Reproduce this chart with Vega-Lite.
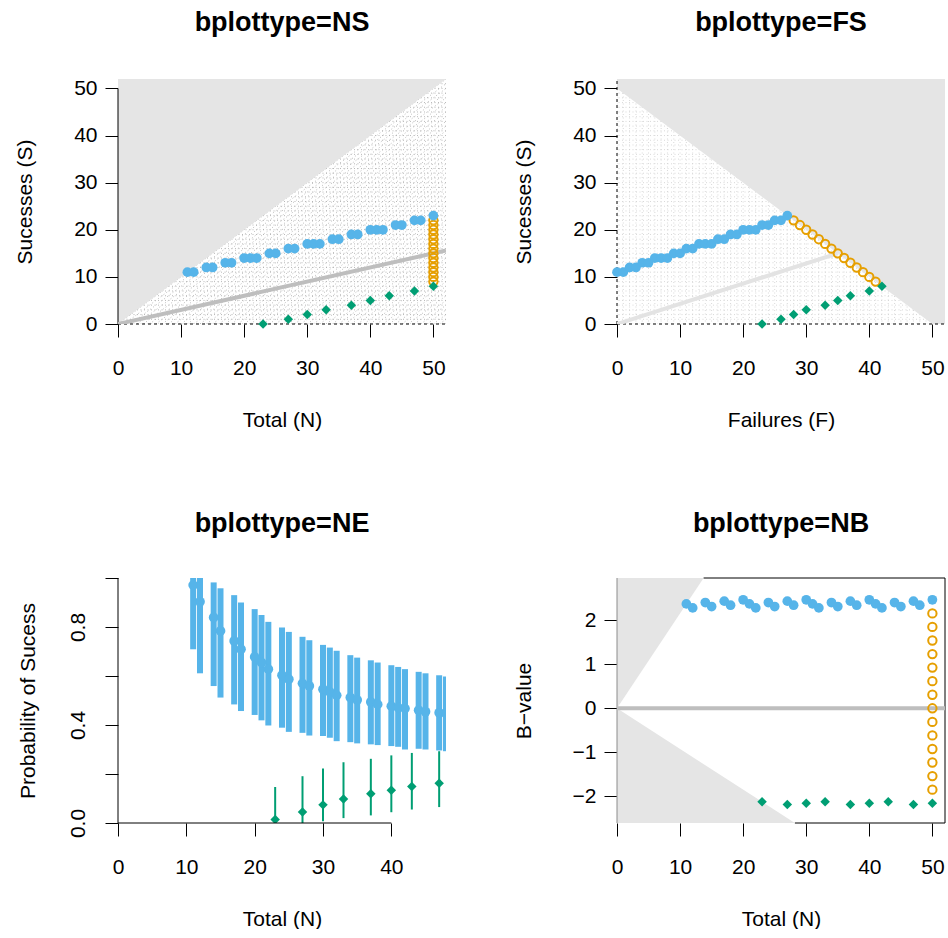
{
  "$schema": "https://vega.github.io/schema/vega-lite/v6.json",
  "background": "white",
  "padding": {"left": 14, "top": 9, "right": 0, "bottom": 0},
  "columns": 2,
  "spacing": {"row": 254, "column": 171},
  "bounds": "flush",
  "config": {
    "view": {"stroke": null},
    "font": "Liberation Sans",
    "axis": {"domain": false, "grid": false, "ticks": true, "tickColor": "black", "tickWidth": 1, "tickSize": 13,
      "labelFont": "Liberation Sans", "labelFontSize": 21, "labelColor": "black", "labelFlush": false, "labelOverlap": false, "labelBound": false,
      "titleFont": "Liberation Sans", "titleFontSize": 21, "titleFontWeight": "normal", "titleColor": "black"},
    "axisX": {"labelPadding": 20, "titlePadding": 31},
    "axisY": {"labelPadding": 8, "titlePadding": 38},
    "title": {"font": "Liberation Sans", "fontSize": 27, "fontWeight": "bold", "color": "black", "anchor": "middle", "frame": "group", "baseline": "alphabetic", "offset": 40}
  },
  "datasets": {
    "upper": [
      {"N":11,"S":11,"F":0,"B":2.376},{"N":12,"S":11,"F":1,"B":2.284},{"N":14,"S":12,"F":2,"B":2.407},{"N":15,"S":12,"F":3,"B":2.315},
      {"N":17,"S":13,"F":4,"B":2.438},{"N":18,"S":13,"F":5,"B":2.345},{"N":20,"S":14,"F":6,"B":2.469},{"N":21,"S":14,"F":7,"B":2.376},
      {"N":22,"S":14,"F":8,"B":2.284},{"N":24,"S":15,"F":9,"B":2.407},{"N":25,"S":15,"F":10,"B":2.315},{"N":27,"S":16,"F":11,"B":2.438},
      {"N":28,"S":16,"F":12,"B":2.345},{"N":30,"S":17,"F":13,"B":2.469},{"N":31,"S":17,"F":14,"B":2.376},{"N":32,"S":17,"F":15,"B":2.284},
      {"N":34,"S":18,"F":16,"B":2.407},{"N":35,"S":18,"F":17,"B":2.315},{"N":37,"S":19,"F":18,"B":2.438},{"N":38,"S":19,"F":19,"B":2.345},
      {"N":40,"S":20,"F":20,"B":2.469},{"N":41,"S":20,"F":21,"B":2.376},{"N":42,"S":20,"F":22,"B":2.284},{"N":44,"S":21,"F":23,"B":2.407},
      {"N":45,"S":21,"F":24,"B":2.315},{"N":47,"S":22,"F":25,"B":2.438},{"N":48,"S":22,"F":26,"B":2.345},{"N":50,"S":23,"F":27,"B":2.469}
    ],
    "lower": [
      {"N":23,"S":0,"F":23,"B":-2.129},{"N":27,"S":1,"F":26,"B":-2.191},{"N":30,"S":2,"F":28,"B":-2.160},{"N":33,"S":3,"F":30,"B":-2.129},
      {"N":37,"S":4,"F":33,"B":-2.191},{"N":40,"S":5,"F":35,"B":-2.160},{"N":43,"S":6,"F":37,"B":-2.129},{"N":47,"S":7,"F":40,"B":-2.191},
      {"N":50,"S":8,"F":42,"B":-2.160}
    ],
    "cont": [
      {"N":50,"S":9,"F":41,"B":-1.852},{"N":50,"S":10,"F":40,"B":-1.543},{"N":50,"S":11,"F":39,"B":-1.234},{"N":50,"S":12,"F":38,"B":-0.926},
      {"N":50,"S":13,"F":37,"B":-0.617},{"N":50,"S":14,"F":36,"B":-0.309},{"N":50,"S":15,"F":35,"B":0},{"N":50,"S":16,"F":34,"B":0.309},
      {"N":50,"S":17,"F":33,"B":0.617},{"N":50,"S":18,"F":32,"B":0.926},{"N":50,"S":19,"F":31,"B":1.234},{"N":50,"S":20,"F":30,"B":1.543},
      {"N":50,"S":21,"F":29,"B":1.852},{"N":50,"S":22,"F":28,"B":2.160}
    ],
    "neup": [
      {"N":11,"p":0.971,"lo":0.709,"hi":1.0},{"N":12,"p":0.903,"lo":0.611,"hi":1.0},{"N":14,"p":0.839,"lo":0.559,"hi":0.982},
      {"N":15,"p":0.784,"lo":0.512,"hi":0.958},{"N":17,"p":0.743,"lo":0.484,"hi":0.930},{"N":18,"p":0.709,"lo":0.457,"hi":0.900},
      {"N":20,"p":0.678,"lo":0.441,"hi":0.873},{"N":21,"p":0.655,"lo":0.419,"hi":0.849},{"N":22,"p":0.628,"lo":0.398,"hi":0.821},
      {"N":24,"p":0.603,"lo":0.389,"hi":0.798},{"N":25,"p":0.587,"lo":0.372,"hi":0.780},{"N":27,"p":0.570,"lo":0.368,"hi":0.760},
      {"N":28,"p":0.559,"lo":0.357,"hi":0.746},{"N":30,"p":0.546,"lo":0.355,"hi":0.727},{"N":31,"p":0.535,"lo":0.348,"hi":0.716},
      {"N":32,"p":0.521,"lo":0.334,"hi":0.703},{"N":34,"p":0.512,"lo":0.330,"hi":0.685},{"N":35,"p":0.502,"lo":0.325,"hi":0.675},
      {"N":37,"p":0.494,"lo":0.321,"hi":0.664},{"N":38,"p":0.484,"lo":0.318,"hi":0.655},{"N":40,"p":0.477,"lo":0.314,"hi":0.644},
      {"N":41,"p":0.471,"lo":0.311,"hi":0.637},{"N":42,"p":0.467,"lo":0.300,"hi":0.628},{"N":44,"p":0.460,"lo":0.303,"hi":0.617},
      {"N":45,"p":0.454,"lo":0.300,"hi":0.611},{"N":47,"p":0.450,"lo":0.296,"hi":0.603},{"N":48,"p":0.447,"lo":0.293,"hi":0.598}
    ],
    "nelow": [
      {"N":23,"p":0.014,"lo":0.0,"hi":0.147},{"N":27,"p":0.045,"lo":0.0,"hi":0.191},{"N":30,"p":0.074,"lo":0.007,"hi":0.222},
      {"N":33,"p":0.098,"lo":0.020,"hi":0.248},{"N":37,"p":0.119,"lo":0.031,"hi":0.262},{"N":40,"p":0.134,"lo":0.044,"hi":0.276},
      {"N":43,"p":0.149,"lo":0.055,"hi":0.286},{"N":47,"p":0.162,"lo":0.065,"hi":0.293}
    ],
    "grid": [
      {"k":0,"m":52,"z":0},{"k":1,"m":51,"z":0},{"k":2,"m":50,"z":0},{"k":3,"m":49,"z":0},{"k":4,"m":48,"z":0},{"k":5,"m":47,"z":0},{"k":6,"m":46,"z":0},{"k":7,"m":45,"z":0},
      {"k":8,"m":44,"z":0},{"k":9,"m":43,"z":0},{"k":10,"m":42,"z":0},{"k":11,"m":41,"z":0},{"k":12,"m":40,"z":0},{"k":13,"m":39,"z":0},{"k":14,"m":38,"z":0},{"k":15,"m":37,"z":0},
      {"k":16,"m":36,"z":0},{"k":17,"m":35,"z":0},{"k":18,"m":34,"z":0},{"k":19,"m":33,"z":0},{"k":20,"m":32,"z":0},{"k":21,"m":31,"z":0},{"k":22,"m":30,"z":0},{"k":23,"m":29,"z":0},
      {"k":24,"m":28,"z":0},{"k":25,"m":27,"z":0},{"k":26,"m":26,"z":0},{"k":27,"m":25,"z":0},{"k":28,"m":24,"z":0},{"k":29,"m":23,"z":0},{"k":30,"m":22,"z":0},{"k":31,"m":21,"z":0},
      {"k":32,"m":20,"z":0},{"k":33,"m":19,"z":0},{"k":34,"m":18,"z":0},{"k":35,"m":17,"z":0},{"k":36,"m":16,"z":0},{"k":37,"m":15,"z":0},{"k":38,"m":14,"z":0},{"k":39,"m":13,"z":0},
      {"k":40,"m":12,"z":0},{"k":41,"m":11,"z":0},{"k":42,"m":10,"z":0},{"k":43,"m":9,"z":0},{"k":44,"m":8,"z":0},{"k":45,"m":7,"z":0},{"k":46,"m":6,"z":0},{"k":47,"m":5,"z":0},
      {"k":48,"m":4,"z":0},{"k":49,"m":3,"z":0},{"k":50,"m":2,"z":0},{"k":51,"m":1,"z":0},{"k":52,"m":0,"z":0}
    ],
    "nsgray": [{"x":0,"lo":0,"hi":52},{"x":52,"lo":52,"hi":52}],
    "fsgray": [{"x":0,"lo":50,"hi":52},{"x":50,"lo":0,"hi":52},{"x":52,"lo":0,"hi":52}],
    "nbgrayup": [{"x":0,"lo":0,"hi":2.965},{"x":13.73,"lo":2.965,"hi":2.965}],
    "nbgraydn": [{"x":0,"lo":-2.61,"hi":0},{"x":28.2,"lo":-2.61,"hi":-2.61}],
    "nsp0": [{"x":0,"y":0},{"x":52,"y":15.6}],
    "fsp0": [{"x":0,"y":0},{"x":35,"y":15}]
  },
  "concat": [
    {
      "title": "bplottype=NS",
      "width": 328, "height": 245,
      "layer": [
        {"data": {"name": "grid"}, "mark": {"type": "rule", "stroke": "#a6a6a6", "strokeWidth": 0.8, "strokeDash": [1, 2.5], "clip": true},
         "encoding": {"y": {"field": "k", "type": "quantitative", "scale": {"domain": [0, 52], "nice": false, "zero": false}, "axis": {"title": "Sucesses (S)", "values": [0, 10, 20, 30, 40, 50]}}}},
        {"data": {"name": "grid"}, "mark": {"type": "rule", "stroke": "#a6a6a6", "strokeWidth": 0.8, "strokeDash": [1, 2.5], "clip": true},
         "encoding": {"x": {"field": "k", "type": "quantitative", "scale": {"domain": [0, 52], "nice": false, "zero": false}, "axis": {"title": "Total (N)", "values": [0, 10, 20, 30, 40, 50]}},
           "x2": {"datum": 52}, "y": {"field": "z", "type": "quantitative"}, "y2": {"field": "m"}}},
        {"data": {"name": "nsgray"}, "mark": {"type": "area", "color": "#e5e5e5", "opacity": 1, "clip": true},
         "encoding": {"x": {"field": "x", "type": "quantitative"}, "y": {"field": "lo", "type": "quantitative"}, "y2": {"field": "hi"}}},
        {"data": {"values": [{}]}, "mark": {"type": "rule", "color": "black", "strokeWidth": 1},
         "encoding": {"x": {"datum": 0, "type": "quantitative"}, "y": {"datum": 0, "type": "quantitative"}, "y2": {"datum": 50}}},
        {"data": {"values": [{}]}, "mark": {"type": "rule", "color": "black", "strokeWidth": 1, "strokeDash": [3, 3]},
         "encoding": {"x": {"datum": 0, "type": "quantitative"}, "x2": {"datum": 52}, "y": {"datum": 0, "type": "quantitative"}}},
        {"data": {"name": "nsp0"}, "mark": {"type": "line", "color": "#bebebe", "strokeWidth": 4, "clip": true},
         "encoding": {"x": {"field": "x", "type": "quantitative"}, "y": {"field": "y", "type": "quantitative"}}},
        {"data": {"name": "cont"}, "mark": {"type": "point", "shape": "circle", "filled": false, "stroke": "#E69F00", "strokeWidth": 2, "size": 70, "opacity": 1},
         "encoding": {"x": {"field": "N", "type": "quantitative"}, "y": {"field": "S", "type": "quantitative"}}},
        {"data": {"name": "upper"}, "mark": {"type": "circle", "color": "#56B4E9", "size": 95, "opacity": 1},
         "encoding": {"x": {"field": "N", "type": "quantitative"}, "y": {"field": "S", "type": "quantitative"}}},
        {"data": {"name": "lower"}, "mark": {"type": "point", "shape": "diamond", "filled": true, "color": "#009E73", "size": 90, "opacity": 1},
         "encoding": {"x": {"field": "N", "type": "quantitative"}, "y": {"field": "S", "type": "quantitative"}}}
      ]
    },
    {
      "title": "bplottype=FS",
      "width": 328, "height": 245,
      "layer": [
        {"data": {"name": "grid"}, "mark": {"type": "rule", "stroke": "#cfcfcf", "strokeWidth": 0.8, "strokeDash": [1, 2.5], "clip": true},
         "encoding": {"y": {"field": "k", "type": "quantitative", "scale": {"domain": [0, 52], "nice": false, "zero": false}, "axis": {"title": "Sucesses (S)", "values": [0, 10, 20, 30, 40, 50]}}}},
        {"data": {"name": "grid"}, "mark": {"type": "rule", "stroke": "#cfcfcf", "strokeWidth": 0.8, "strokeDash": [1, 2.5], "clip": true},
         "encoding": {"x": {"field": "k", "type": "quantitative", "scale": {"domain": [0, 52], "nice": false, "zero": false}, "axis": {"title": "Failures (F)", "values": [0, 10, 20, 30, 40, 50]}}}},
        {"data": {"name": "fsgray"}, "mark": {"type": "area", "color": "#e5e5e5", "opacity": 1, "clip": true},
         "encoding": {"x": {"field": "x", "type": "quantitative"}, "y": {"field": "lo", "type": "quantitative"}, "y2": {"field": "hi"}}},
        {"data": {"values": [{}]}, "mark": {"type": "rule", "color": "black", "strokeWidth": 1, "strokeDash": [3, 3]},
         "encoding": {"x": {"datum": 0, "type": "quantitative"}, "y": {"datum": 0, "type": "quantitative"}, "y2": {"datum": 52}}},
        {"data": {"values": [{}]}, "mark": {"type": "rule", "color": "black", "strokeWidth": 1, "strokeDash": [3, 3]},
         "encoding": {"x": {"datum": 0, "type": "quantitative"}, "x2": {"datum": 52}, "y": {"datum": 0, "type": "quantitative"}}},
        {"data": {"name": "fsp0"}, "mark": {"type": "line", "color": "#e3e3e3", "strokeWidth": 4, "clip": true},
         "encoding": {"x": {"field": "x", "type": "quantitative"}, "y": {"field": "y", "type": "quantitative"}}},
        {"data": {"name": "cont"}, "mark": {"type": "point", "shape": "circle", "filled": false, "stroke": "#E69F00", "strokeWidth": 2, "size": 70, "opacity": 1},
         "encoding": {"x": {"field": "F", "type": "quantitative"}, "y": {"field": "S", "type": "quantitative"}}},
        {"data": {"name": "upper"}, "mark": {"type": "circle", "color": "#56B4E9", "size": 95, "opacity": 1},
         "encoding": {"x": {"field": "F", "type": "quantitative"}, "y": {"field": "S", "type": "quantitative"}}},
        {"data": {"name": "lower"}, "mark": {"type": "point", "shape": "diamond", "filled": true, "color": "#009E73", "size": 90, "opacity": 1},
         "encoding": {"x": {"field": "F", "type": "quantitative"}, "y": {"field": "S", "type": "quantitative"}}}
      ]
    },
    {
      "title": "bplottype=NE",
      "width": 328, "height": 245,
      "layer": [
        {"data": {"name": "neup"}, "mark": {"type": "rule", "color": "#56B4E9", "strokeWidth": 6, "clip": true},
         "encoding": {"x": {"field": "N", "type": "quantitative", "scale": {"domain": [0, 48], "nice": false, "zero": false}, "axis": {"title": "Total (N)", "values": [0, 10, 20, 30, 40]}},
           "y": {"field": "lo", "type": "quantitative", "scale": {"domain": [0, 1], "nice": false, "zero": false},
             "axis": {"title": "Probability of Sucess", "values": [0, 0.2, 0.4, 0.6, 0.8, 1.0], "format": ".1f",
               "labelExpr": "(datum.label == '0.0' || datum.label == '0.4' || datum.label == '0.8') ? datum.label : ''",
               "labelAngle": 270, "labelAlign": "center", "labelBaseline": "alphabetic", "labelPadding": 21, "titlePadding": 29}},
           "y2": {"field": "hi"}}},
        {"data": {"name": "neup"}, "mark": {"type": "circle", "color": "#56B4E9", "size": 95, "opacity": 1, "clip": true},
         "encoding": {"x": {"field": "N", "type": "quantitative"}, "y": {"field": "p", "type": "quantitative"}}},
        {"data": {"name": "nelow"}, "mark": {"type": "rule", "color": "#009E73", "strokeWidth": 2, "clip": true},
         "encoding": {"x": {"field": "N", "type": "quantitative"}, "y": {"field": "lo", "type": "quantitative"}, "y2": {"field": "hi"}}},
        {"data": {"name": "nelow"}, "mark": {"type": "point", "shape": "diamond", "filled": true, "color": "#009E73", "size": 90, "opacity": 1, "clip": true},
         "encoding": {"x": {"field": "N", "type": "quantitative"}, "y": {"field": "p", "type": "quantitative"}}},
        {"data": {"values": [{}]}, "mark": {"type": "rule", "color": "black", "strokeWidth": 1},
         "encoding": {"x": {"datum": 0, "type": "quantitative"}, "y": {"datum": 0, "type": "quantitative"}, "y2": {"datum": 1}}},
        {"data": {"values": [{}]}, "mark": {"type": "rule", "color": "black", "strokeWidth": 1},
         "encoding": {"x": {"datum": 0, "type": "quantitative"}, "x2": {"datum": 40}, "y": {"datum": 0, "type": "quantitative"}}}
      ]
    },
    {
      "title": "bplottype=NB",
      "width": 328, "height": 245,
      "layer": [
        {"data": {"name": "nbgrayup"}, "mark": {"type": "area", "color": "#e5e5e5", "opacity": 1, "clip": true},
         "encoding": {"x": {"field": "x", "type": "quantitative", "scale": {"domain": [0, 52], "nice": false, "zero": false}, "axis": {"title": "Total (N)", "values": [0, 10, 20, 30, 40, 50]}},
           "y": {"field": "lo", "type": "quantitative", "scale": {"domain": [-2.61, 2.965], "nice": false, "zero": false}, "axis": {"title": "B−value", "values": [-2, -1, 0, 1, 2]}},
           "y2": {"field": "hi"}}},
        {"data": {"name": "nbgraydn"}, "mark": {"type": "area", "color": "#e5e5e5", "opacity": 1, "clip": true},
         "encoding": {"x": {"field": "x", "type": "quantitative"}, "y": {"field": "lo", "type": "quantitative"}, "y2": {"field": "hi"}}},
        {"data": {"values": [{}]}, "mark": {"type": "rule", "color": "black", "strokeWidth": 1},
         "encoding": {"x": {"datum": 13.73, "type": "quantitative"}, "x2": {"datum": 52}, "y": {"datum": 2.965, "type": "quantitative"}}},
        {"data": {"values": [{}]}, "mark": {"type": "rule", "color": "black", "strokeWidth": 1},
         "encoding": {"x": {"datum": 28.2, "type": "quantitative"}, "x2": {"datum": 52}, "y": {"datum": -2.61, "type": "quantitative"}}},
        {"data": {"values": [{}]}, "mark": {"type": "rule", "color": "black", "strokeWidth": 1},
         "encoding": {"x": {"datum": 52, "type": "quantitative"}, "y": {"datum": -2.61, "type": "quantitative"}, "y2": {"datum": 2.965}}},
        {"data": {"values": [{}]}, "mark": {"type": "rule", "color": "#8c8c8c", "strokeWidth": 1},
         "encoding": {"x": {"datum": 0, "type": "quantitative"}, "y": {"datum": -2.61, "type": "quantitative"}, "y2": {"datum": 2.965}}},
        {"data": {"values": [{}]}, "mark": {"type": "rule", "color": "#bebebe", "strokeWidth": 4},
         "encoding": {"x": {"datum": 0, "type": "quantitative"}, "x2": {"datum": 52}, "y": {"datum": 0, "type": "quantitative"}}},
        {"data": {"name": "cont"}, "mark": {"type": "point", "shape": "circle", "filled": false, "stroke": "#E69F00", "strokeWidth": 2, "size": 70, "opacity": 1},
         "encoding": {"x": {"field": "N", "type": "quantitative"}, "y": {"field": "B", "type": "quantitative"}}},
        {"data": {"name": "upper"}, "mark": {"type": "circle", "color": "#56B4E9", "size": 95, "opacity": 1},
         "encoding": {"x": {"field": "N", "type": "quantitative"}, "y": {"field": "B", "type": "quantitative"}}},
        {"data": {"name": "lower"}, "mark": {"type": "point", "shape": "diamond", "filled": true, "color": "#009E73", "size": 90, "opacity": 1},
         "encoding": {"x": {"field": "N", "type": "quantitative"}, "y": {"field": "B", "type": "quantitative"}}}
      ]
    }
  ]
}
